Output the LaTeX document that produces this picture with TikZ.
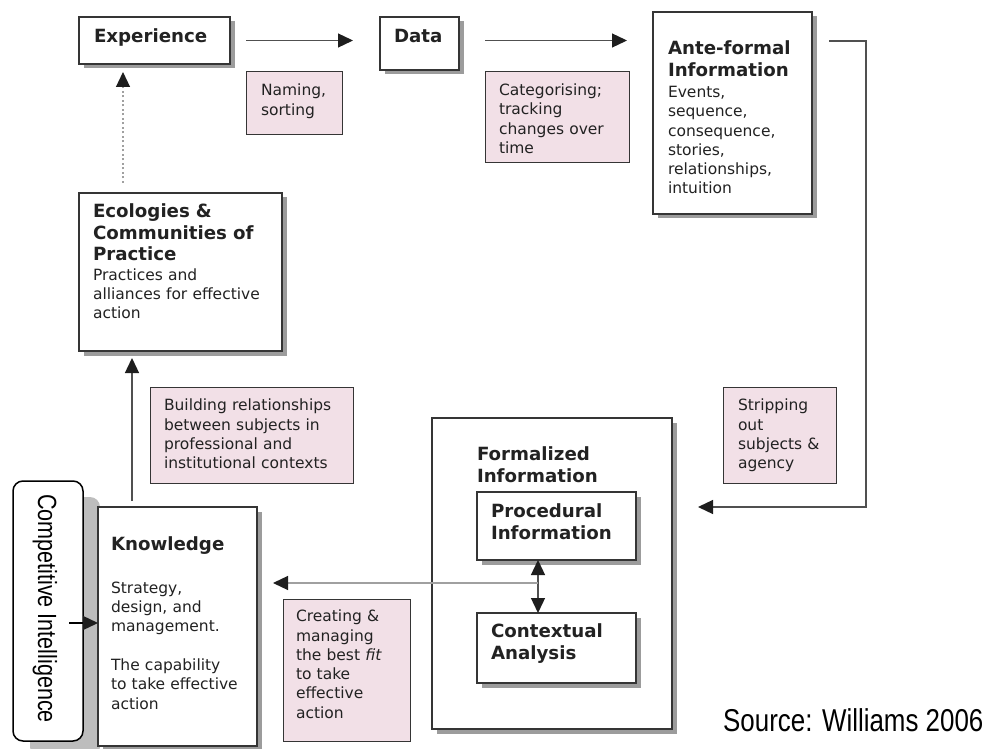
\documentclass[tikz,border=0pt]{standalone}
\usepackage{fontspec}
\setmainfont{DejaVu Sans}
\newfontfamily\narrowfont[FakeStretch=0.82]{Liberation Sans}
\usetikzlibrary{arrows.meta,calc,shadows}
\definecolor{boxc}{HTML}{353535}
\definecolor{pinkc}{HTML}{F2E0E7}
\definecolor{shadowc}{HTML}{9C9C9C}
\definecolor{cishadow}{HTML}{BDBDBD}
\definecolor{linec}{HTML}{505050}
\definecolor{lightline}{HTML}{A0A0A0}
\definecolor{arrowc}{HTML}{1E1E1E}
\definecolor{textc}{HTML}{222222}
\newcommand{\myreg}{\fontsize{15.5}{19.3}\selectfont}
\newcommand{\mybold}{\fontsize{18.2}{21.7}\selectfont\bfseries}
\tikzset{
  mainbox/.style={draw=boxc, line width=1.4pt, fill=white, anchor=north west,
    inner sep=0pt, outer sep=0pt,
    copy shadow={shadow xshift=4.5pt, shadow yshift=-4.5pt, draw=none, fill=shadowc}},
  pinkbox/.style={draw=boxc, line width=1pt, fill=pinkc, anchor=north west,
    inner sep=0pt, outer sep=0pt},
  txt/.style={inner sep=0pt, outer sep=0pt, text width=280pt, align=left,
    anchor=base west, font=\myreg, text=textc},
  btxt/.style={txt, font=\mybold},
  tip/.tip={Triangle[length=15pt,width=14pt,color=arrowc,fill=arrowc]},
  conn/.style={draw=linec, line width=1.3pt, -tip},
}
\begin{document}
\begin{tikzpicture}[x=1pt,y=-1pt]
\useasboundingbox (0,0) rectangle (986,749);

% boxes
\node[mainbox, minimum width=151pt, minimum height=47pt] (exp) at (79,17) {};
\node[mainbox, minimum width=79pt, minimum height=53pt] (data) at (380,17) {};
\node[pinkbox, minimum width=96pt, minimum height=63pt] (naming) at (246,72) {};
\node[pinkbox, minimum width=144pt, minimum height=91pt] (categ) at (485,72) {};
\node[mainbox, minimum width=159pt, minimum height=202pt] (ante) at (653,12) {};
\node[mainbox, minimum width=203pt, minimum height=158pt] (ecol) at (79,193) {};
\node[pinkbox, minimum width=203pt, minimum height=96pt] (build) at (150,387) {};
\node[pinkbox, minimum width=113pt, minimum height=96pt] (strip) at (723,387) {};
\node[mainbox, minimum width=240pt, minimum height=311pt] (formal) at (432,418) {};
\node[mainbox, minimum width=159pt, minimum height=68pt] (proc) at (477,492) {};
\node[mainbox, minimum width=159pt, minimum height=70pt] (cont) at (477,613) {};
\node[draw=black, line width=1.5pt, fill=white, rounded corners=10pt, anchor=north west,
  inner sep=0pt, outer sep=0pt, minimum width=70pt, minimum height=260pt,
  copy shadow={shadow xshift=17pt, shadow yshift=-16pt, draw=none, fill=cishadow}] (ci) at (13,481) {};
\node[mainbox, minimum width=159pt, minimum height=239pt] (know) at (98,507) {};
\node[pinkbox, minimum width=127pt, minimum height=142pt] (creat) at (283,599) {};

% texts
\node[btxt] (expt) at ($(exp.north west)+(15,25.7)$) {Experience};
\node[btxt] (datat) at ($(data.north west)+(14,25.7)$) {Data};
\node[txt] (namingt) at ($(naming.north west)+(15,24)$) {Naming,\\sorting};
\node[txt] (categt) at ($(categ.north west)+(14,23.7)$) {Categorising;\\tracking\\changes over\\time};
\node[btxt] (antet) at ($(ante.north west)+(15,43)$) {Ante-formal\\Information};
\node[txt] (anteb) at ($(ante.north west)+(15,85.5)$) {Events,\\sequence,\\consequence,\\stories,\\relationships,\\intuition};
\node[btxt] (ecolt) at ($(ecol.north west)+(14,24.5)$) {Ecologies \&\\Communities of\\Practice};
\node[txt] (ecolb) at ($(ecol.north west)+(14,87)$) {Practices and\\alliances for effective\\action};
\node[txt] (buildt) at ($(build.north west)+(14,23.7)$) {Building relationships\\between subjects in\\professional and\\institutional contexts};
\node[txt] (stript) at ($(strip.north west)+(15,23.7)$) {Stripping\\out\\subjects \&\\agency};
\node[btxt] (formalt) at ($(formal.north west)+(45,42.7)$) {Formalized\\Information};
\node[btxt] (proct) at ($(proc.north west)+(14,25.7)$) {Procedural\\Information};
\node[btxt] (contt) at ($(cont.north west)+(14,24.7)$) {Contextual\\Analysis};
\node[btxt] (knowt) at ($(know.north west)+(13,43.7)$) {Knowledge};
\node[txt] (knowb) at ($(know.north west)+(13,86.3)$) {Strategy,\\design, and\\management.\\[19.3pt]The capability\\to take effective\\action};
\node[txt] (creatt) at ($(creat.north west)+(13,22.7)$) {Creating \&\\managing\\the best \textit{fit}\\to take\\effective\\action};
\node[inner sep=0pt, rotate=-90, font=\narrowfont\fontsize{26.3}{30}\selectfont, text=black] (cit) at ($(ci.center)+(-3,-2.5)$) {Competitive Intelligence};
\node[inner sep=0pt, anchor=base west, font=\narrowfont\fontsize{31.6}{36}\selectfont, text=black] (source) at (723,731) {Source: Williams 2006};

% connectors
\coordinate (c1) at ($(ante.north east)+(54,29)$);
\coordinate (c2) at ($(c1)+(0,466)$);
\coordinate (mid) at ($(proc.south)+(-18.5,23)$);
\coordinate (ku) at ($(know.north west)+(34,-6)$);
\coordinate (eu) at ($(ecol.north west)+(44,-10)$);
\coordinate (cistart) at ($(ci.east)+(-14,12)$);
\draw[conn] ($(exp.east)+(16,0)$) -- ($(data.west|-exp.east)+(-27,0)$);
\draw[conn] ($(data.east|-exp.east)+(26,0)$) -- ($(ante.west|-exp.east)+(-26,0)$);
\draw[conn] ($(ante.north east)+(17,29)$) -- (c1) -- (c2) -- ($(formal.east|-c2)+(26,0)$);
\draw[conn, draw=lightline, line width=1.2pt, dash pattern=on 2pt off 2.5pt] (eu) -- (eu|-{$(exp.south)+(0,8)$});
\draw[conn] (ku) -- (ku|-{$(ecol.south)+(0,7)$});
\draw[conn, draw=black] (cistart) -- (know.west|-cistart);
\draw[conn, tip-tip] ($(proc.south)+(-18.5,0)$) -- ($(cont.north)+(-18.5,0)$);
\draw[conn, draw=lightline, line width=1.2pt] (mid) -- ($(know.east|-mid)+(16,0)$);
\end{tikzpicture}
\end{document}
